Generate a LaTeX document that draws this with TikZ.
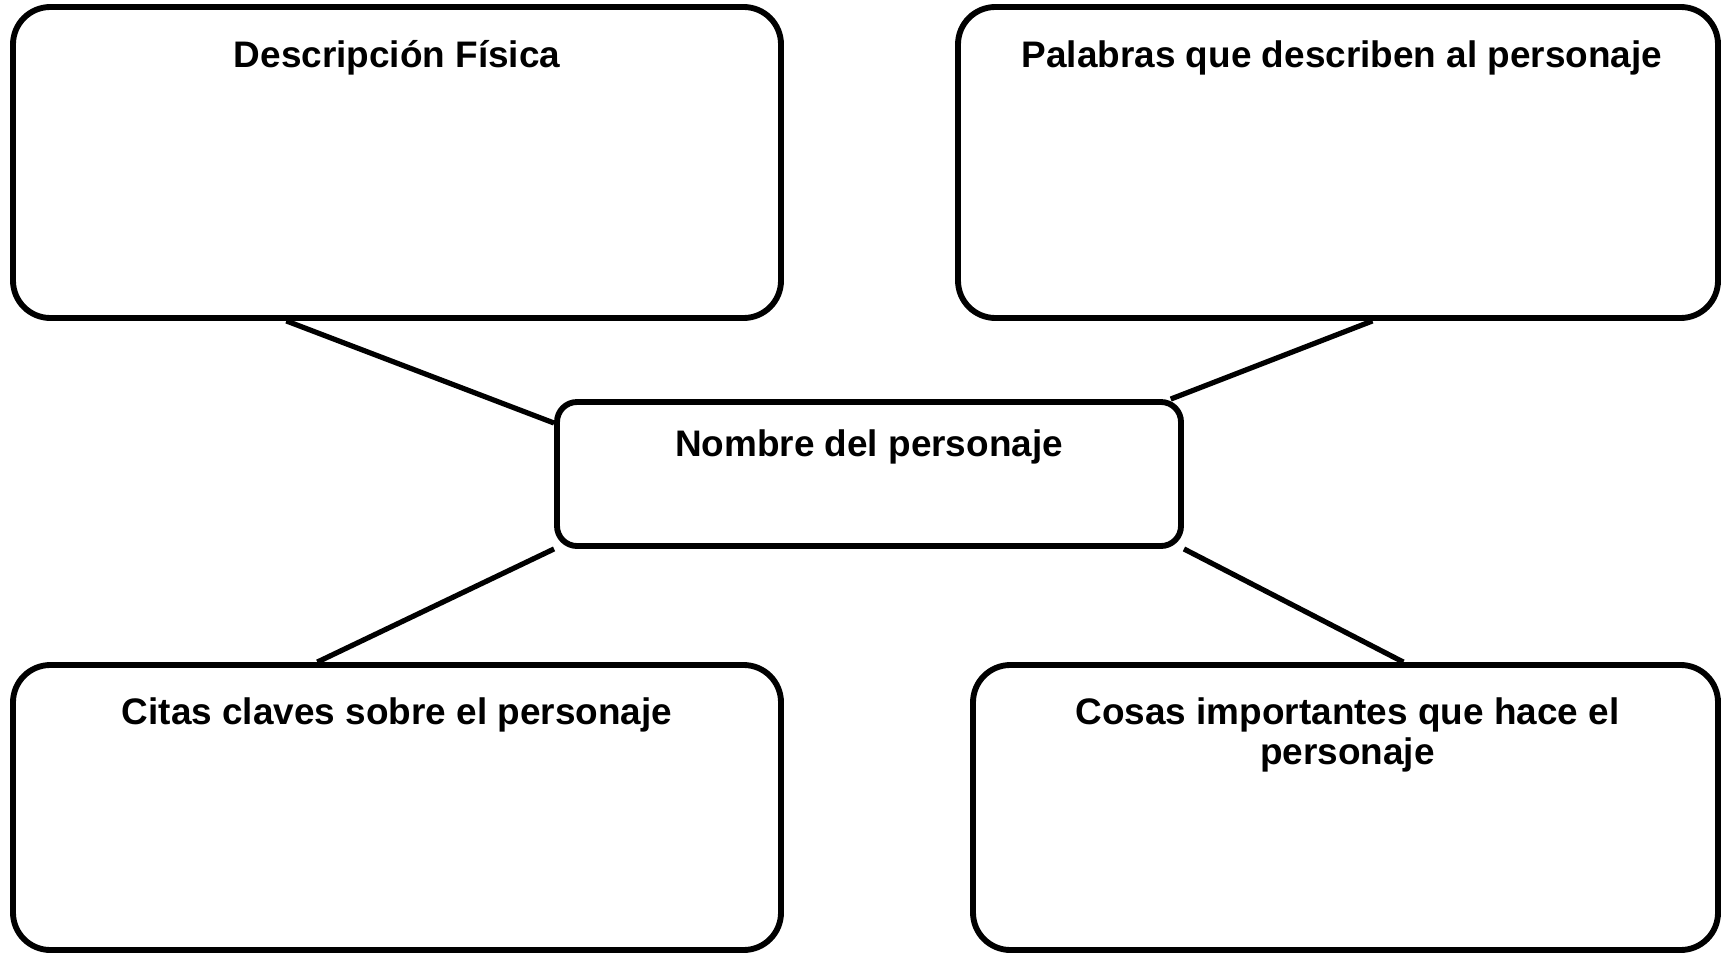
\documentclass[tikz,border=0pt]{standalone}
\usepackage{fontspec}
\setmainfont{Liberation Sans}
\usetikzlibrary{calc}
\def\grosor{4.4pt}

\tikzset{
  caja/.style={draw, line width=\grosor, rounded corners=28pt, inner sep=0pt},
  titulo/.style={font=\bfseries\fontsize{27.7}{30}\selectfont, align=center, anchor=base, inner sep=0pt},
  linea/.style={line width=3.9pt},
}

\begin{document}
\begin{tikzpicture}[x=0.75pt, y=-0.75pt]
\useasboundingbox (0, 0) rectangle (1722, 952);

% boxes

\node[caja, minimum width=576pt, minimum height=233.25pt] (fisica) at (397, 162.5) {};
\node[caja, minimum width=570pt, minimum height=233.25pt] (palabras) at (1338, 162.5) {};
\node[caja, minimum width=468pt, minimum height=108pt, rounded corners=15pt] (nombre) at (869, 474) {};
\node[caja, minimum width=576pt, minimum height=213.75pt] (citas) at (397, 807.5) {};
\node[caja, minimum width=558.75pt, minimum height=213.75pt] (cosas) at (1345.5, 807.5) {};

% titles

\node[titulo] (tfisica) at ($(fisica.north) + (0, 63)$) {Descripción Física};
\node[titulo] (tpalabras) at ($(palabras.north) + (4, 63)$) {Palabras que describen al personaje};
\node[titulo] (tnombre) at ($(nombre.north) + (0, 57)$) {Nombre del personaje};
\node[titulo] (tcitas) at ($(citas.north) + (0, 62)$) {Citas claves sobre el personaje};
\node[titulo] (tcosas) at ($(cosas.north) + (2, 102)$) {Cosas importantes que hace el\\personaje};

% lines

\coordinate (F) at ($(fisica.south west)!0.357!(fisica.south east)$);
\coordinate (P) at ($(palabras.south west)!0.545!(palabras.south east)$);
\coordinate (C) at ($(citas.north west)!0.397!(citas.north east)$);
\coordinate (K) at ($(cosas.north west)!0.577!(cosas.north east)$);
\coordinate (N1) at ($(nombre.north west)!0.16!(nombre.south west)$);
\coordinate (N2) at ($(nombre.north west)!0.979!(nombre.north east)$);

\draw[linea] (F) -- (N1);
\draw[linea] (P) -- (N2);
\draw[linea] (nombre.south west) -- (C);
\draw[linea] (nombre.south east) -- (K);

\end{tikzpicture}
\end{document}
